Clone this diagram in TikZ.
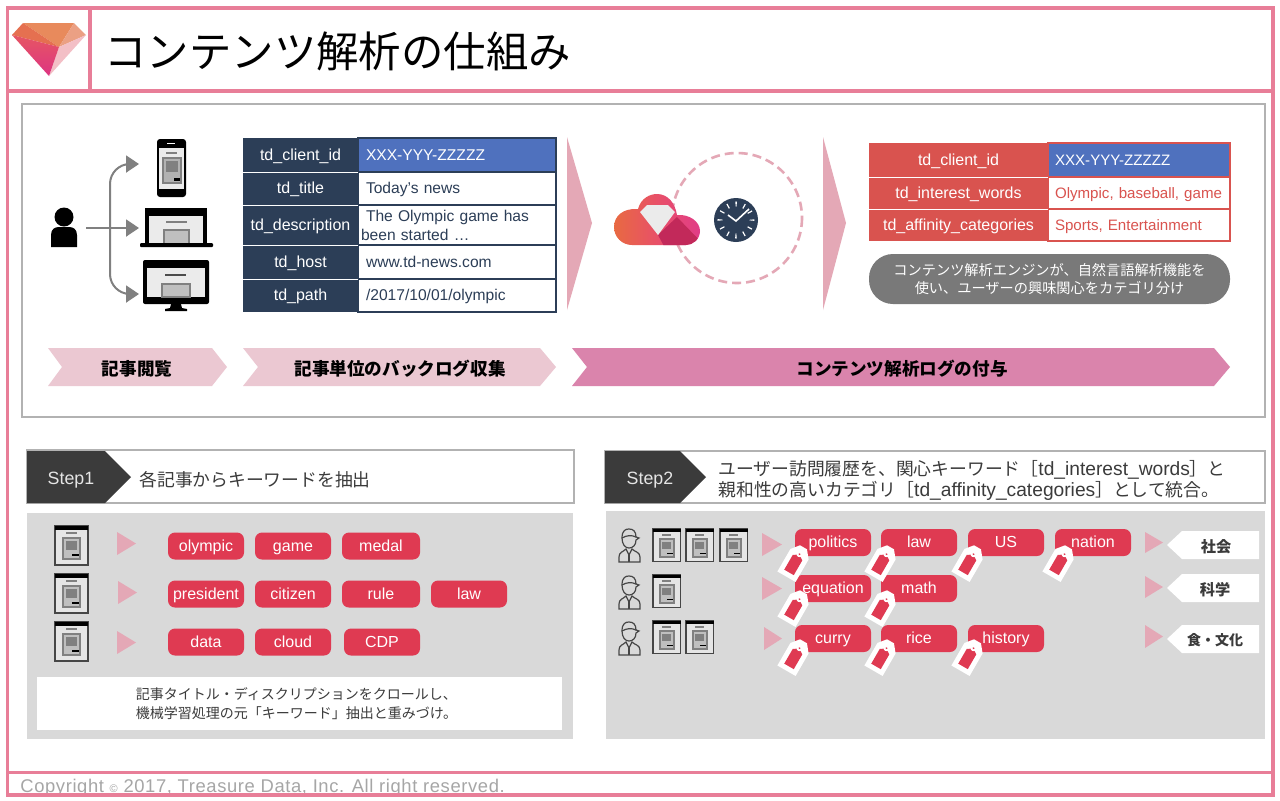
\documentclass[tikz,border=0pt]{standalone}
\usepackage{xcolor}
\usepackage{fontspec}
\usepackage{tikz}
\usetikzlibrary{arrows.meta, positioning, calc}
\setmainfont{Liberation Sans}
\newfontfamily\jpfont{Noto Sans CJK JP}
\definecolor{framepink}{RGB}{232,126,152}
\definecolor{panelline}{RGB}{178,178,178}
\definecolor{navy}{RGB}{44,62,87}
\definecolor{cellblue}{RGB}{79,113,190}
\definecolor{tablered}{RGB}{217,83,79}
\definecolor{chevlight}{RGB}{235,200,210}
\definecolor{chevdeep}{RGB}{218,132,172}
\definecolor{tripink}{RGB}{228,168,182}
\definecolor{tagred}{RGB}{223,58,82}
\definecolor{graypanel}{RGB}{217,217,217}
\definecolor{stepdark}{RGB}{59,59,59}
\definecolor{iconline}{RGB}{70,70,70}
\definecolor{gemtop}{RGB}{232,138,92}
\definecolor{gemleft}{RGB}{229,112,80}
\definecolor{gemupper}{RGB}{235,160,132}
\definecolor{gemside}{RGB}{243,191,198}
\definecolor{gemlow}{RGB}{230,86,99}
\definecolor{gemtip}{RGB}{221,52,130}
\definecolor{cloudorange}{RGB}{232,108,62}
\definecolor{cloudmid}{RGB}{232,80,104}
\definecolor{cloudpink}{RGB}{224,58,138}
\definecolor{clouddark}{RGB}{194,41,90}
\tikzset{
  onerow/.style={text height=6.6pt, text depth=1.6pt},
  frameline/.style={draw=framepink, line width=1.75pt},
  hcell/.style={onerow, anchor=north west, fill=navy, text=white, minimum width=57.5pt, inner sep=0pt, outer sep=0pt,
    font=\fontsize{8}{9}\selectfont},
  vcell/.style={anchor=north west, draw=navy, fill=white, text=navy, line width=1pt, text width=91pt, inner xsep=4pt, inner ysep=0pt,
    outer sep=0pt, align=left, font=\fontsize{7.8}{9.5}\selectfont},
  rcell/.style={onerow, anchor=north west, fill=tablered, text=white, minimum width=89.5pt, inner sep=0pt, outer sep=0pt,
    font=\fontsize{8}{9}\selectfont},
  scell/.style={onerow, anchor=north west, draw=tablered, fill=white, text=tablered, line width=.75pt, text width=84pt, inner xsep=3.5pt, inner ysep=0pt,
    outer sep=0pt, align=left, font=\fontsize{7.55}{9}\selectfont},
  sepline/.style={draw=white, line width=.5pt},
  flowline/.style={draw=gray, line width=1pt, -{Triangle[length=6.5pt,width=8.5pt]}},
  chevtext/.style={font=\jpfont\bfseries\fontsize{8.8}{10}\selectfont, text=black, inner sep=0pt},
  steplabel/.style={font=\fontsize{8.9}{10}\selectfont, text=white!90!black, inner sep=0pt},
  steptext/.style={anchor=west, font=\jpfont\fontsize{8.9}{10.5}\selectfont, text=stepdark, align=left, inner sep=0pt},
  notetext/.style={font=\jpfont\fontsize{7.1}{9.2}\selectfont, align=center, inner sep=0pt},
  tagbox/.style={onerow, fill=tagred, text=white, rounded corners=3.5pt, minimum width=38pt, minimum height=13.5pt, inner sep=0pt,
    font=\fontsize{8}{9}\selectfont},
  catbox/.style={font=\jpfont\bfseries\fontsize{7.6}{9}\selectfont, text=stepdark, inner sep=0pt},
  pointer/.style={fill=tripink},
  docicon/.pic={
    \fill[white!90!black] (0,0) rectangle (33,39);
    \draw[iconline, line width=.6pt] (0,0) rectangle (33,39);
    \fill[black] (0,0) rectangle (33,4);
    \draw[gray, line width=.7pt] (11,7) -- (22,7);
    \fill[white!75!black] (8,12) rectangle (25,33);
    \draw[gray, line width=.9pt] (8,12) rectangle (25,33);
    \fill[gray] (11,15) rectangle (22,24);
    \fill[black] (17,28) rectangle (24,30);
  },
  usericon/.pic={
    \draw[iconline, line width=.6pt, fill=none] (4,10) .. controls (4,2) and (8,1) .. (11,1) .. controls (15,1) and (18,3) .. (18,9)
      -- (21,10) -- (18,12) .. controls (18,17) and (15,20) .. (11,20) .. controls (7,20) and (4,16) .. (4,10) -- cycle;
    \draw[iconline, line width=.6pt] (4,10) .. controls (9,7) and (14,7) .. (18,9);
    \draw[iconline, line width=.6pt] (1,34) -- (1,29) .. controls (1,24) and (5,24) .. (8,21) -- (11,27) -- (14,21)
      .. controls (17,24) and (22,24) .. (22,29) -- (22,34) -- cycle;
    \draw[iconline, line width=.6pt] (11,27) -- (11,34);
  },
  pricetag/.pic={
    \fill[white] (-10.5,17) -- (10.5,17) -- (10.5,-9) -- (4,-17) -- (-4,-17) -- (-10.5,-9) -- cycle;
    \fill[tagred] (-5.5,12) -- (5.5,12) -- (5.5,-5) -- (1,-8) -- (-1,-8) -- (-5.5,-5) -- cycle;
    \fill[white] (0,-9) circle (3);
    \fill[tagred] (0,-9) circle (1);
  },
  phoneicon/.pic={
    \fill[black, rounded corners=1.5pt] (0,0) rectangle (29,58);
    \fill[white!92!black] (2,9) rectangle (27,50);
    \fill[white] (10,4) rectangle (18,5);
    \draw[gray, line width=.7pt] (9,14) -- (20,14);
    \fill[white!70!black] (6,19) rectangle (24,44);
    \draw[gray, line width=.6pt] (6,19) rectangle (24,44);
    \fill[gray] (9,22) rectangle (21,33);
    \fill[black] (17,39) rectangle (23,42);
  },
  laptopicon/.pic={
    \fill[black] (0,0) rectangle (62,37);
    \fill[white!92!black] (4,4) rectangle (58,37);
    \fill[black] (4,4) rectangle (58,8);
    \draw[gray, line width=1pt] (21,14) -- (42,14);
    \fill[white!75!black] (19,22) rectangle (44,37);
    \draw[gray, line width=1pt] (19,22) rectangle (44,37);
    \fill[black, rounded corners=.5pt] (-5,35) rectangle (68,39);
  },
  desktopicon/.pic={
    \fill[black, rounded corners=1pt] (0,0) rectangle (66,44);
    \fill[white!92!black] (4,4) rectangle (62,37);
    \fill[black] (4,4) rectangle (62,8);
    \draw[black!70, line width=1pt] (22,15) -- (43,15);
    \fill[white!75!black] (19,24) rectangle (47,37);
    \draw[gray, line width=1pt] (19,24) rectangle (47,37);
    \fill[black] (28,44) -- (38,44) -- (39,48) -- (44,49) -- (44,51) -- (22,51) -- (22,49) -- (27,48) -- cycle;
  }
}

\begin{document}
\begin{tikzpicture}[x=.5pt, y=-.5pt]
    \useasboundingbox (0,0) rectangle (1280,800);
    \fill[white] (0,0) rectangle (1280,800);

    % Footer text sits under the frame
    \node[anchor=west, inner sep=0pt, text=gray!70, font=\fontsize{9.2}{10}\selectfont\addfontfeatures{LetterSpace=3.3}] (copyright) at (20,788)
      {Copyright {\fontsize{5.5}{6}\selectfont ©} 2017, Treasure Data, Inc. All right reserved.};

    % Frame
    \draw[frameline] (7.5,8) rectangle (1273,795);
    \draw[frameline] (7.5,91) -- (1273,91);
    \draw[frameline] (90,8) -- (90,91);
    \draw[frameline] (7.5,772.5) -- (1273,772.5);

    % Logo
    \fill[gemtop] (23,23) -- (74,23) -- (59,47) -- cycle;
    \fill[gemleft] (12,35) -- (23,23) -- (59,47) -- cycle;
    \fill[gemupper] (74,23) -- (86,35) -- (59,47) -- cycle;
    \fill[gemside] (86,35) -- (59,47) -- (49,76) -- cycle;
    \shade[top color=gemlow, bottom color=gemtip] (12,35) -- (59,47) -- (49,76) -- cycle;

    % Title
    \node[anchor=west, inner sep=0pt, font=\jpfont\fontsize{21.2}{24}\selectfont] (title) at (104,51) {コンテンツ解析の仕組み};

    % Top panel
    \draw[panelline, line width=.75pt] (22,104) rectangle (1265,417);

    % User and devices
    \fill[black] (64,217) circle (9.5);
    \fill[black] (51,247) -- (51,235) .. controls (51,229) and (55,227) .. (59,227) -- (69,227)
      .. controls (73,227) and (77,229) .. (77,235) -- (77,247) -- cycle;
    \pic (phone) at (157,139) {phoneicon};
    \pic (laptop) at (145,208) {laptopicon};
    \pic (desktop) at (143,260) {desktopicon};
    \coordinate (userout) at (86,228);
    \coordinate (branch) at (110,228);
    \coordinate (phonein) at (139,164);
    \coordinate (laptopin) at (139,228);
    \coordinate (desktopin) at (139,294);
    \draw[flowline] (userout) -- (laptopin);
    \draw[flowline, rounded corners=10pt] (branch) |- (phonein);
    \draw[flowline, rounded corners=10pt] (branch) |- (desktopin);

    % Log table
    \node[hcell, minimum height=17pt] (h1) at (243,138) {td\_client\_id};
    \node[hcell, minimum height=16.5pt] (h2) at (243,172) {td\_title};
    \node[hcell, minimum height=20pt] (h3) at (243,205) {td\_description};
    \node[hcell, minimum height=17pt] (h4) at (243,245) {td\_host};
    \node[hcell, minimum height=16.5pt] (h5) at (243,279) {td\_path};
    \node[vcell, onerow, minimum height=17pt, fill=cellblue, text=white] (v1) at (358,138) {XXX-YYY-ZZZZZ};
    \node[vcell, onerow, minimum height=16.5pt] (v2) at (358,172) {Today’s news};
    \node[vcell, minimum height=20pt] (v3) at (358,205) {The Olympic  game has\\\hspace*{-2.5pt}been started …};
    \node[vcell, onerow, minimum height=17pt] (v4) at (358,245) {www.td-news.com};
    \node[vcell, onerow, minimum height=16.5pt] (v5) at (358,279) {/2017/10/01/olympic};
    \draw[sepline] (h1.south west) -- (h1.south east);
    \draw[sepline] (h2.south west) -- (h2.south east);
    \draw[sepline] (h3.south west) -- (h3.south east);
    \draw[sepline] (h4.south west) -- (h4.south east);

    % Big arrows
    \fill[pointer] (567,137) -- (592,223) -- (567,310) -- cycle;
    \fill[pointer] (823,137) -- (846,223) -- (823,310) -- cycle;

    % Engine: circle, cloud, clock
    \draw[tripink, line width=1.3pt, dash pattern=on 4.5pt off 2.5pt] (737,218) circle (65);
    \begin{scope}
      \clip (632,245) .. controls (622,245) and (614,237) .. (614,227) .. controls (614,216) and (623,208) .. (638,209)
        .. controls (641,198) and (650,194) .. (657,194) .. controls (668,194) and (675,203) .. (677,215)
        .. controls (690,214) and (700,222) .. (700,231) .. controls (700,239) and (693,245) .. (686,245) -- cycle;
      \shade[left color=cloudorange, right color=cloudpink, middle color=cloudmid] (610,190) rectangle (704,248);
      \fill[clouddark] (658,235) -- (677,217) -- (704,245) -- (704,248) -- (665,248) -- cycle;
      \fill[white!92!black] (640,212) -- (647,205) -- (668,205) -- (675,212) -- (658,235) -- cycle;
    \end{scope}
    \fill[navy] (736,220) circle (22);
    \draw[white, line width=2.5pt, dash pattern=on .6pt off 3.589pt, dash phase=.3pt] (736,220) circle (16);
    \draw[white, line width=.8pt] (728,215) -- (736,221) -- (749,209);

    % Result table
    \node[rcell, minimum height=17pt] (r1) at (869,143) {td\_client\_id};
    \node[rcell, minimum height=16pt] (r2) at (869,177) {td\_interest\_words};
    \node[rcell, minimum height=16pt] (r3) at (869,209) {td\_affinity\_categories};
    \node[scell, minimum height=17pt, fill=cellblue, text=white] (s1) at (1048,143) {XXX-YYY-ZZZZZ};
    \node[scell, minimum height=16pt] (s2) at (1048,177) {Olympic, baseball, game};
    \node[scell, minimum height=16pt] (s3) at (1048,209) {Sports, Entertainment};
    \draw[sepline] (r1.south west) -- (r1.south east);
    \draw[sepline] (r2.south west) -- (r2.south east);

    \node[fill=gray!95!black, rounded corners=12pt, minimum width=180.5pt, minimum height=25pt, inner sep=0pt, text=white, notetext] (engine) at (1049.5,279)
      {コンテンツ解析エンジンが、自然言語解析機能を\\使い、ユーザーの興味関心をカテゴリ分け};

    % Stage arrows
    \fill[chevlight] (48,348) -- (212,348) -- (227,367) -- (212,386) -- (48,386) -- (62,367) -- cycle;
    \fill[chevlight] (243,348) -- (540,348) -- (556,367) -- (540,386) -- (243,386) -- (258,367) -- cycle;
    \fill[chevdeep] (572,348) -- (1214,348) -- (1230,367) -- (1214,386) -- (572,386) -- (587,367) -- cycle;
    \node[chevtext] (stage1) at (137,369) {記事閲覧};
    \node[chevtext] (stage2) at (400,369) {記事単位のバックログ収集};
    \node[chevtext] (stage3) at (902,369) {コンテンツ解析ログの付与};

    % Step 1
    \draw[panelline, line width=.75pt] (27,450) rectangle (574,503);
    \fill[stepdark] (27,451) -- (105,451) -- (131,477) -- (105,503) -- (27,503) -- cycle;
    \node[steplabel] (step1) at (71,480) {Step1};
    \node[steptext] (step1text) at (139,480) {各記事からキーワードを抽出};
    \fill[graypanel] (27,513) rectangle (573,739);
    \pic (doc1) at (55,526) {docicon};
    \pic (doc2) at (55,574) {docicon};
    \pic (doc3) at (55,622) {docicon};
    \fill[pointer] (117,532) -- (136,543.5) -- (117,555) -- cycle;
    \fill[pointer] (118,581) -- (137,592.5) -- (118,604) -- cycle;
    \fill[pointer] (117,631) -- (136,642.5) -- (117,654) -- cycle;
    \node[tagbox] (olympic) at (206,546) {olympic};
    \node[tagbox] (game) at (293,546) {game};
    \node[tagbox, minimum width=39pt] (medal) at (381,546) {medal};
    \node[tagbox] (president) at (206,594) {president};
    \node[tagbox] (citizen) at (293,594) {citizen};
    \node[tagbox, minimum width=39pt] (rule) at (381,594) {rule};
    \node[tagbox] (law1) at (469,594) {law};
    \node[tagbox] (data) at (206,642) {data};
    \node[tagbox] (cloud) at (293,642) {cloud};
    \node[tagbox] (cdp) at (382,642) {CDP};
    \node[fill=white, minimum width=262.5pt, minimum height=26.5pt, inner sep=0pt] (note) at (299.5,703.5) {};
    \node[notetext, text=stepdark, align=left, font=\jpfont\fontsize{7}{9.2}\selectfont] (notetext) at (296.5,703.5) {記事タイトル・ディスクリプションをクロールし、\\機械学習処理の元「キーワード」抽出と重みづけ。};

    % Step 2
    \draw[panelline, line width=.75pt] (605,451) rectangle (1265,503);
    \fill[stepdark] (605,451) -- (680,451) -- (706,477) -- (680,503) -- (605,503) -- cycle;
    \node[steplabel] (step2) at (650,480) {Step2};
    \node[steptext] (step2text) at (718,480) {ユーザー訪問履歴を、関心キーワード［{\rmfamily\fontsize{9.6}{10.5}\selectfont td\_interest\_words}］と\\親和性の高いカテゴリ［{\rmfamily\fontsize{9.6}{10.5}\selectfont td\_affinity\_categories}］として統合。};
    \fill[graypanel] (606,511) rectangle (1265,739);

    % Step 2, visitors and their articles
    \pic (user1) at (618,528) {usericon};
    \pic (user2) at (618,575) {usericon};
    \pic (user3) at (618,621) {usericon};
    \pic[scale=.84] (doc4) at (653,529) {docicon};
    \pic[scale=.84] (doc5) at (686,529) {docicon};
    \pic[scale=.84] (doc6) at (720,529) {docicon};
    \pic[scale=.84] (doc7) at (653,575) {docicon};
    \pic[scale=.84] (doc8) at (653,621) {docicon};
    \pic[scale=.84] (doc9) at (686,621) {docicon};
    \fill[pointer] (762,533) -- (782,544.5) -- (762,556) -- cycle;
    \fill[pointer] (762,577) -- (782,588.5) -- (762,600) -- cycle;
    \fill[pointer] (764,627) -- (782,638.5) -- (764,650) -- cycle;

    % Step 2, keywords
    \node[tagbox] (politics) at (833,542.5) {politics};
    \node[tagbox] (law2) at (919,542.5) {law};
    \node[tagbox] (us) at (1006,542.5) {US};
    \node[tagbox] (nation) at (1093,542.5) {nation};
    \node[tagbox] (equation) at (833,588.5) {equation};
    \node[tagbox] (math) at (919,588.5) {math};
    \node[tagbox] (curry) at (833,638.5) {curry};
    \node[tagbox] (rice) at (919,638.5) {rice};
    \node[tagbox] (history) at (1006,638.5) {history};
    \pic[rotate=-30] (tag1) at (795,562) {pricetag};
    \pic[rotate=-30] (tag2) at (882,562) {pricetag};
    \pic[rotate=-30] (tag3) at (969,562) {pricetag};
    \pic[rotate=-30] (tag4) at (1060,562) {pricetag};
    \pic[rotate=-30] (tag5) at (795,607) {pricetag};
    \pic[rotate=-30] (tag6) at (882,607) {pricetag};
    \pic[rotate=-30] (tag7) at (795,656) {pricetag};
    \pic[rotate=-30] (tag8) at (882,656) {pricetag};
    \pic[rotate=-30] (tag9) at (969,656) {pricetag};

    % Step 2, categories
    \fill[pointer] (1145,532) -- (1163,542.5) -- (1145,553) -- cycle;
    \fill[pointer] (1145,576) -- (1163,587) -- (1145,598) -- cycle;
    \fill[pointer] (1145,625) -- (1163,636.5) -- (1145,648) -- cycle;
    \fill[white] (1167,545) -- (1182,531) -- (1259,531) -- (1259,559) -- (1182,559) -- cycle;
    \fill[white] (1167,588) -- (1182,574) -- (1259,574) -- (1259,602) -- (1182,602) -- cycle;
    \fill[white] (1167,639) -- (1182,625) -- (1259,625) -- (1259,653) -- (1182,653) -- cycle;
    \node[catbox] (cat1) at (1216,547) {社会};
    \node[catbox] (cat2) at (1215,590) {科学};
    \node[catbox, font=\jpfont\bfseries\fontsize{7}{9}\selectfont] (cat3) at (1215,640) {食・文化};
\end{tikzpicture}
\end{document}
